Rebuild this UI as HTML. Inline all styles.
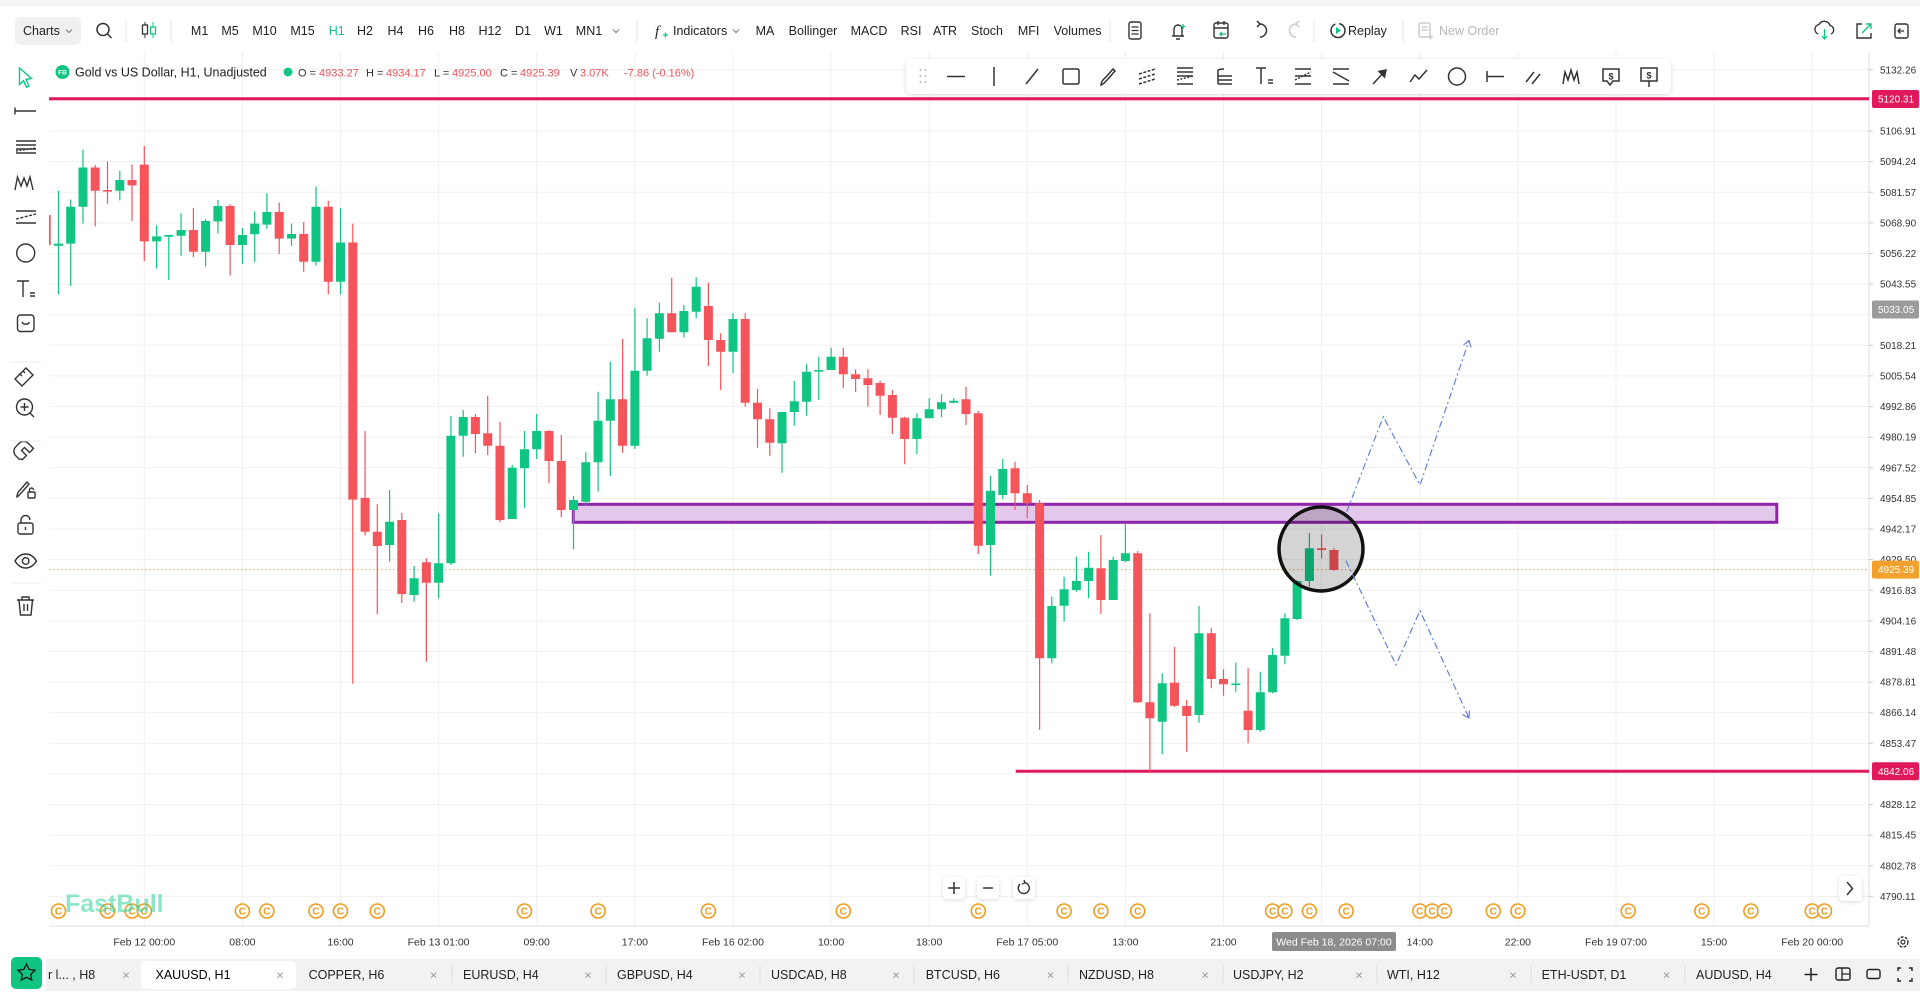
<!DOCTYPE html>
<html><head><meta charset="utf-8">
<style>
html,body{margin:0;padding:0;background:#fff;}
body{width:1920px;height:995px;overflow:hidden;}
svg{display:block;font-family:"Liberation Sans",sans-serif;}
</style></head>
<body>
<svg width="1920" height="995" viewBox="0 0 1920 995" xmlns="http://www.w3.org/2000/svg">
<defs>
<clipPath id="cl"><rect x="49" y="52" width="1820" height="874"/></clipPath>
<filter id="sh" x="-5%" y="-30%" width="110%" height="160%"><feDropShadow dx="0" dy="1" stdDeviation="2" flood-color="#000" flood-opacity="0.15"/></filter>
</defs>
<rect width="1920" height="995" fill="#fff"/>
<rect width="1920" height="6" fill="#f3f3f3"/>

<!-- ============ TOP TOOLBAR ============ -->
<g font-size="12.5" fill="#222">
<rect x="15" y="17" width="66" height="28" rx="5" fill="#f0f0f0"/>
<text x="23" y="35">Charts</text>
<path d="M66 29.5l3 3 3-3" stroke="#888" fill="none" stroke-width="1.2"/>
<circle cx="103" cy="29.5" r="6" stroke="#333" stroke-width="1.5" fill="none"/>
<path d="M107.5 34l4 4" stroke="#333" stroke-width="1.5"/>
<g stroke="#e3e3e3" stroke-width="1"><path d="M126 20V42M171 20V42M637 20V42M1110 20V42M1314 20V42M1403 20V42"/></g>
<path d="M145 22V38" stroke="#333"/><rect x="142.5" y="25" width="5" height="9" fill="#fff" stroke="#333" stroke-width="1.3"/>
<path d="M153 22V38" stroke="#10c482"/><rect x="150.5" y="27" width="5" height="7" fill="#fff" stroke="#10c482" stroke-width="1.3"/>
<g text-anchor="middle">
<text x="199.6" y="35">M1</text><text x="230" y="35">M5</text><text x="264.5" y="35">M10</text><text x="302.5" y="35">M15</text>
<text x="336.7" y="35" fill="#10c482">H1</text><text x="365" y="35">H2</text><text x="395.5" y="35">H4</text><text x="426" y="35">H6</text>
<text x="457" y="35">H8</text><text x="490" y="35">H12</text><text x="523" y="35">D1</text><text x="553.5" y="35">W1</text><text x="589" y="35">MN1</text>
<text x="765" y="35">MA</text><text x="813" y="35">Bollinger</text><text x="869" y="35">MACD</text><text x="911" y="35">RSI</text>
<text x="945" y="35">ATR</text><text x="987" y="35">Stoch</text><text x="1028.6" y="35">MFI</text><text x="1077.6" y="35">Volumes</text>
</g>
<path d="M613 29.5l3 3 3-3" stroke="#888" fill="none" stroke-width="1.2"/>
<text x="655" y="36" font-style="italic" font-size="15" font-family="Liberation Serif,serif">f</text>
<path d="M663 35h5M665.5 32.5v5" stroke="#10c482" stroke-width="1.3"/>
<text x="673" y="35">Indicators</text>
<path d="M733 29.5l3 3 3-3" stroke="#888" fill="none" stroke-width="1.2"/>
<!-- icons -->
<rect x="1129" y="22" width="12" height="17" rx="2" fill="none" stroke="#333" stroke-width="1.4"/>
<path d="M1131.5 27h7M1131.5 30.5h7M1131.5 34h7" stroke="#333" stroke-width="1.2"/>
<path d="M1172 36h12M1174 36v-7a4 4 0 0 1 8 0v7M1176 39h4" stroke="#333" stroke-width="1.4" fill="none"/>
<path d="M1183 24v5M1180.5 26.5h5" stroke="#10c482" stroke-width="1.3"/>
<rect x="1214" y="23" width="14" height="15" rx="2" fill="none" stroke="#333" stroke-width="1.4"/>
<path d="M1214 28h14M1218 21v4M1224 21v4" stroke="#333" stroke-width="1.4"/>
<path d="M1226 34h-6l2-2M1220 34l2 2" stroke="#10c482" stroke-width="1.3" fill="none"/>
<path d="M1260 24a6.5 6.5 0 1 1 0 13" stroke="#333" stroke-width="1.5" fill="none"/><path d="M1257 21l3 3-3 3" stroke="#333" stroke-width="1.5" fill="none"/>
<path d="M1296 24a6.5 6.5 0 1 0 0 13" stroke="#c8c8c8" stroke-width="1.5" fill="none"/><path d="M1299 21l-3 3 3 3" stroke="#c8c8c8" stroke-width="1.5" fill="none"/>
<circle cx="1338" cy="30.5" r="7" stroke="#333" stroke-width="1.5" fill="none" stroke-dasharray="30 4"/>
<path d="M1336 27v7l5-3.5z" fill="#10c482"/>
<text x="1348" y="35">Replay</text>
<rect x="1419" y="23" width="11" height="14" rx="1.5" fill="none" stroke="#c4c4c4" stroke-width="1.3"/>
<path d="M1421.5 27h6M1421.5 30h6M1428 37h5M1430.5 34.5v5" stroke="#c4c4c4" stroke-width="1.2"/>
<text x="1439" y="35" fill="#b8b8b8">New Order</text>
<path d="M1818 34a5 5 0 0 1 1-9.5 6 6 0 0 1 11 1 4.5 4.5 0 0 1 1 8.5" stroke="#333" stroke-width="1.4" fill="none"/>
<path d="M1824.5 29v10M1822 36l2.5 3 2.5-3" stroke="#10c482" stroke-width="1.3" fill="none"/>
<path d="M1862 24h-5v14h14v-5" stroke="#333" stroke-width="1.4" fill="none"/><path d="M1862 33l9-9M1866 24h5v5" stroke="#10c482" stroke-width="1.4" fill="none"/>
<rect x="1895" y="24" width="13" height="14" rx="2" stroke="#333" stroke-width="1.4" fill="none"/>
<path d="M1904 31h-6M1900.5 28.5l-2.5 2.5 2.5 2.5" stroke="#333" stroke-width="1.3" fill="none"/>
</g>

<!-- ============ CHART GRID ============ -->
<g stroke="#efefef" stroke-width="1">
<path d="M49 69.8H1869M49 100.4H1869M49 131H1869M49 161.6H1869M49 192.3H1869M49 222.9H1869M49 253.5H1869M49 284.1H1869M49 314.7H1869M49 345.3H1869M49 375.9H1869M49 406.6H1869M49 437.2H1869M49 467.8H1869M49 498.4H1869M49 529H1869M49 559.6H1869M49 590.3H1869M49 620.9H1869M49 651.5H1869M49 682.1H1869M49 712.7H1869M49 743.3H1869M49 773.9H1869M49 804.6H1869M49 835.2H1869M49 865.8H1869M49 896.4H1869"/>
<path d="M144.3 52V926M242.4 52V926M340.5 52V926M438.6 52V926M536.7 52V926M634.9 52V926M733 52V926M831.1 52V926M929.2 52V926M1027.3 52V926M1125.4 52V926M1223.5 52V926M1321.6 52V926M1419.8 52V926M1517.9 52V926M1616 52V926M1714 52V926M1812.2 52V926"/>
</g>
<path d="M1869 52V926M49 926H1869" stroke="#dedede" stroke-width="1"/>

<!-- ============ CHART CONTENT ============ -->
<g clip-path="url(#cl)">
<path d="M49 98.7H1869" stroke="#e0195a" stroke-width="3"/>
<path d="M1015.7 771.3H1869" stroke="#e0195a" stroke-width="3"/>
<path d="M49 569.6H1869" stroke="#f2a531" stroke-width="1" stroke-dasharray="1.5 2.5"/>
<rect x="573.3" y="504.3" width="1203.5" height="18" fill="#e3c8ec" stroke="#8e24aa" stroke-width="3"/>

<!-- green candles -->
<path stroke="#10c482" stroke-width="1.2" fill="none" d="M58.5 190.7V294.3M70.7 199.6V286M83 149.6V223.6M119.8 171V200.4M156.6 225.4V268.6M168.8 235V280M181.1 213.2V255.7M205.6 219.3V266.4M217.9 200V233.6M242.4 228V264M254.7 211.4V262.1M266.9 193.2V229M291.5 223.6V246M316 186.4V265.7M340.5 207.9V294.3M389.6 490V561.7M414.1 566V601.7M438.6 513.3V598.3M450.9 416V565M463.2 410V456.7M512.2 465V519M524.5 431V507.7M536.7 414V459M573.5 496V549.3M585.8 452.3V505M598.1 391.7V491.7M610.3 361.7V476M634.9 307.7V449M647.1 318.3V375.7M659.4 302.7V351.7M683.9 305V337.7M696.2 277.3V318.3M733 313.3V373.3M782 411.7V472.7M794.3 381V425.7M806.6 364.3V415.7M818.8 356.7V400M831.1 347.7V370M916.9 413.3V454.3M929.2 398.3V418.3M941.5 394.3V417.3M953.7 398.3V403.3M990.5 476V575.7M1002.8 459V499.3M1051.8 596.7V663.3M1064.1 576.7V621.7M1076.4 556.7V591.7M1088.6 551.7V598.3M1113.2 556.7V600M1125.4 523.3V562.3M1162.2 673.3V754.3M1199 606V722.7M1235.8 662.7V691.7M1260.3 671.7V731.7M1272.6 648.3V693.3M1284.9 613.3V664.3M1297.1 580V620M1309.4 533.3V586.7"/>
<path fill="#10c482" d="M54 243.6h9V245.7h-9ZM66.2 206.8h9V243.6h-9ZM78.5 167.5h9V206.8h-9ZM115.3 180h9V190.7h-9ZM152.1 236.4h9V241.4h-9ZM164.3 235h9V236.8h-9ZM176.6 230h9V235.7h-9ZM201.1 221h9V251.8h-9ZM213.4 206h9V221.4h-9ZM237.9 235h9V245h-9ZM250.2 223.6h9V234.3h-9ZM262.4 212h9V224.6h-9ZM287 234h9V238.6h-9ZM311.5 206.8h9V261.8h-9ZM336 242.5h9V281.8h-9ZM385.1 521.7h9V545h-9ZM409.6 578.3h9V595h-9ZM434.1 563.3h9V582.7h-9ZM446.4 435.7h9V563.3h-9ZM458.7 417h9V435.7h-9ZM507.7 467.7h9V519h-9ZM520 449.3h9V468.3h-9ZM532.2 431h9V449.3h-9ZM569 500h9V510h-9ZM581.3 462.3h9V501.7h-9ZM593.6 420.7h9V462.3h-9ZM605.8 399.3h9V420.7h-9ZM630.4 370.7h9V445.7h-9ZM642.6 338.3h9V370.7h-9ZM654.9 313.3h9V338.7h-9ZM679.4 311h9V332.3h-9ZM691.7 286.7h9V311.7h-9ZM728.5 319h9V351.7h-9ZM777.5 412h9V443.3h-9ZM789.8 401.3h9V412h-9ZM802.1 371.7h9V401.7h-9ZM814.3 370h9V371.6h-9ZM826.6 356.7h9V370h-9ZM912.4 418.3h9V439h-9ZM924.7 409.3h9V418.3h-9ZM937 402.3h9V409.3h-9ZM949.2 400.7h9V402.7h-9ZM986 490.7h9V545h-9ZM998.3 469h9V495h-9ZM1047.3 606h9V658.3h-9ZM1059.6 589.3h9V605.7h-9ZM1071.9 581h9V590h-9ZM1084.1 567.7h9V581h-9ZM1108.7 560h9V600h-9ZM1120.9 553.3h9V561h-9ZM1157.7 683.3h9V721.7h-9ZM1194.5 633.3h9V715h-9ZM1231.3 683.5h9V685h-9ZM1255.8 692.3h9V730h-9ZM1268.1 655h9V692.3h-9ZM1280.4 618.3h9V655.7h-9ZM1292.6 581h9V619h-9ZM1304.9 548.3h9V581h-9Z"/>

<!-- red candles -->
<path stroke="#f5545a" stroke-width="1.2" fill="none" d="M46.2 200V255M95.2 165V226.4M107.5 161.4V203.9M132 164.6V221M144.3 146V261M193.4 207.9V257.1M230.1 204.3V275.7M279.2 202.5V254M303.7 222V271.8M328.3 200.7V294.3M352.8 223.6V683.6M365.1 431V535.4M377.3 504.3V614M401.8 513V603M426.4 558.3V661.7M475.4 414V453.3M487.7 395.7V455M500 421.7V522.3M549 430V483.3M561.3 435V517.3M622.6 339V452.7M671.7 277.7V332.3M708.4 282.7V366M720.7 333.3V390M745.2 313.3V406.7M757.5 389V447.7M769.8 408.3V455.7M843.3 347.7V388.3M855.6 369.3V391.7M867.9 369.3V406.7M880.1 380.7V415M892.4 390V434M904.7 416.7V464.3M966 386.7V425M978.3 410.7V554M1015 461.7V510M1027.3 485V518.3M1039.6 500V730M1100.9 535V614M1137.7 551V703.3M1149.9 613.3V771.7M1174.5 646.7V706.7M1186.7 700V751.7M1211.3 628.3V688.3M1223.5 669.3V695.7M1248.1 668.3V743.3M1321.6 534.3V558.3M1333.9 548.3V570.7"/>
<path fill="#f5545a" d="M41.7 215h9V245h-9ZM90.7 167.5h9V190.7h-9ZM103 190h9V191.6h-9ZM127.5 180h9V185.4h-9ZM139.8 164.6h9V241.4h-9ZM188.9 230h9V251.8h-9ZM225.6 206h9V245h-9ZM274.7 212h9V238.6h-9ZM299.2 234h9V261.8h-9ZM323.8 206.8h9V281.8h-9ZM348.3 242.5h9V499.6h-9ZM360.6 497.9h9V531.8h-9ZM372.8 531.8h9V546h-9ZM397.3 520h9V594h-9ZM421.9 562.3h9V582.7h-9ZM470.9 417h9V434h-9ZM483.2 433.3h9V445.7h-9ZM495.5 445.7h9V520h-9ZM544.5 431h9V461h-9ZM556.8 461h9V510h-9ZM618.1 399.3h9V445.7h-9ZM667.2 313.3h9V332.3h-9ZM703.9 306h9V340h-9ZM716.2 340h9V351.7h-9ZM740.7 319h9V402.7h-9ZM753 402.7h9V419.3h-9ZM765.3 419.3h9V442.7h-9ZM838.8 356.7h9V374.3h-9ZM851.1 374.3h9V379h-9ZM863.4 378.3h9V385h-9ZM875.6 383h9V395.7h-9ZM887.9 395h9V417.7h-9ZM900.2 417.7h9V439h-9ZM961.5 399.3h9V414h-9ZM973.8 413.3h9V545.7h-9ZM1010.5 468.3h9V493.3h-9ZM1022.8 493.3h9V503.3h-9ZM1035.1 503.3h9V658.3h-9ZM1096.4 568.3h9V600h-9ZM1133.2 553.3h9V702.3h-9ZM1145.4 702.3h9V718.3h-9ZM1170 682.7h9V705.7h-9ZM1182.2 706h9V716h-9ZM1206.8 633.3h9V679h-9ZM1219 679h9V684.3h-9ZM1243.6 710.7h9V730h-9ZM1317.1 548.3h9V550h-9ZM1329.4 550h9V570h-9Z"/>

<circle cx="1321" cy="549" r="42" fill="rgba(0,0,0,0.17)" stroke="#111" stroke-width="3.5"/>

<g stroke="#5a78d8" stroke-width="1.1" fill="none" stroke-dasharray="7 3 2 3">
<path d="M1346.7 511.7L1383.3 416.7L1420 485L1469 340.5"/>
<path d="M1346 560.7L1396 665L1420 610.7L1469 718"/>
</g>
<g stroke="#5a78d8" stroke-width="1.1" fill="none">
<path d="M1463.5 345L1469 340.5L1471 347.5"/>
<path d="M1462.5 714.5L1469 718L1469.5 710.5"/>
</g>
</g>

<!-- ============ INFO ROW ============ -->
<g font-size="12.5">
<circle cx="62.5" cy="72" r="7" fill="#10c482"/>
<text x="62.5" y="74.5" font-size="6.5" font-weight="bold" fill="#fff" text-anchor="middle">FB</text>
<text x="75" y="76.5" fill="#222">Gold vs US Dollar, H1, Unadjusted</text>
<circle cx="288" cy="72" r="4.5" fill="#10c482"/>
<text y="76.5" font-size="11" fill="#333"><tspan x="298">O =</tspan><tspan x="319" fill="#f0525a">4933.27</tspan><tspan x="366">H =</tspan><tspan x="386" fill="#f0525a">4934.17</tspan><tspan x="434">L =</tspan><tspan x="452" fill="#f0525a">4925.00</tspan><tspan x="500">C =</tspan><tspan x="520" fill="#f0525a">4925.39</tspan><tspan x="570">V</tspan><tspan x="580" fill="#f0525a">3.07K</tspan><tspan x="624" fill="#f0525a">-7.86 (-0.16%)</tspan></text>
</g>

<!-- ============ DRAWING TOOLBAR ============ -->
<rect x="906" y="59" width="765" height="35" rx="6" fill="#fff" filter="url(#sh)"/>
<g stroke="#333" stroke-width="1.5" fill="none">
<g fill="#bbb" stroke="none"><circle cx="920.5" cy="70" r="1"/><circle cx="925.5" cy="70" r="1"/><circle cx="920.5" cy="76" r="1"/><circle cx="925.5" cy="76" r="1"/><circle cx="920.5" cy="82" r="1"/><circle cx="925.5" cy="82" r="1"/></g>
<path d="M947 76.5h18"/>
<path d="M994 67v19"/>
<path d="M1026 84l12-15"/>
<rect x="1063" y="69" width="16" height="15" rx="1.5"/>
<path d="M1101 85c0-4 3-6 5-8l7-8 2 2-7 8c-2 2-4 5-7 6z"/>
<path d="M1139 74l16-5M1139 79l16-5M1139 84l16-5" stroke-dasharray="3 1.5"/>
<path d="M1177 68h16M1177 72h16M1177 76h16M1177 84h16"/><path d="M1177 80l16-4" stroke-dasharray="2 1.5"/>
<path d="M1218 70c2-1 4-1 6-1M1218 70v14M1218 76h14M1218 80h14M1218 84h14"/>
<path d="M1256 68h10M1261 68v16M1268 80h5M1268 83h5"/>
<path d="M1295 69h16M1295 84h16"/><path d="M1295 80l16-8" stroke-dasharray="2 1.5"/><path d="M1295 76h16"/>
<path d="M1333 69h16M1333 84h16M1333 72l16 9"/>
<path d="M1373 84l13-14"/><path d="M1386 70l-7 1.5 5.5 5.5z" fill="#333"/>
<path d="M1410 82l5-7 4 4 8-9"/>
<circle cx="1457" cy="76.5" r="8.5"/>
<path d="M1487 76.5h17M1487 71v11"/>
<path d="M1526 82l8-10M1532 84l8-10"/>
<path d="M1563 84l2-12 3 8 3-10 3 10 3-8 2 12"/>
<path d="M1603 69h16v12h-6l-3 4-3-4h-4z"/><text x="1611" y="79.5" font-size="9" fill="#333" stroke="none" text-anchor="middle" font-weight="bold">$</text>
<path d="M1641 68h16v13h-16zM1649 81v6"/><text x="1649" y="78.5" font-size="9" fill="#333" stroke="none" text-anchor="middle" font-weight="bold">$</text>
</g>

<!-- ============ LEFT TOOLBAR ============ -->
<rect x="0" y="52" width="48" height="880" fill="#fff"/>
<g stroke="#333" stroke-width="1.4" fill="none">
<path d="M19.5 68l12 10.5-5.5 1 3 6.5-2.5 1.2-3-6.5-4 3.8z" stroke="#10c482"/>
<path d="M15 111h21M15 107.5v7"/>
<path d="M16 141h20M16 145h20M16 149h20M16 153h20"/><path d="M16 151l20-3" stroke-dasharray="2 1.5"/>
<path d="M15 190l2.5-13 3.5 9 3-8 3 8 3-9 3 13"/>
<path d="M16 211h20M16 223h20"/><path d="M16 219l20-5" stroke-dasharray="3 1.5"/>
<circle cx="25.7" cy="253" r="9"/>
<path d="M17 281h12M23 281v16M30 293h5M30 296h5"/>
<rect x="17.5" y="315" width="16.5" height="16.5" rx="3"/><path d="M22 322c1 3 6.5 3 7.5 0"/>
<path d="M15 379l11-11 7 7-11 11zM20 374l2 2M23 371l2 2M26 368l1.5 1.5"/>
<circle cx="24.5" cy="407" r="8"/><path d="M24.5 403v8M20.5 407h8M30 413l4 4"/>
<path d="M19 459l-3-3a6.5 6.5 0 0 1 0-9.5l3-3a6.5 6.5 0 0 1 9.5 0l5 5-4 4-5-5-3 3 5 5-4 4z"/>
<path d="M17 497c0-4 2-6 4-8l6-7 2 2-6 7c-2 2-4 5-6 6z"/><rect x="28" y="492" width="7" height="6" rx="1"/><path d="M29.5 492v-2a2 2 0 0 1 4 0"/>
<rect x="18" y="523" width="15" height="11" rx="2"/><path d="M21 523v-3a4.5 4.5 0 0 1 9 0"/><path d="M25.5 527v3"/>
<path d="M15 561c3-5 6.5-7 10.7-7s7.7 2 10.7 7c-3 5-6.5 7-10.7 7s-7.7-2-10.7-7z"/><circle cx="25.7" cy="561" r="3.3"/>
<path d="M17 600h17M22 600v-3h7v3M19 600l1.5 15h10.5l1.5-15M24 604v7M27.5 604v7"/>
</g>
<path d="M10 362h31M10 441h31M10 583h31" stroke="#eee"/>

<!-- ============ PRICE AXIS ============ -->
<g font-size="10" fill="#333">
<path stroke="#ccc" d="M1869 69.8h4M1869 131h4M1869 161.6h4M1869 192.3h4M1869 222.9h4M1869 253.5h4M1869 284.1h4M1869 345.3h4M1869 375.9h4M1869 406.6h4M1869 437.2h4M1869 467.8h4M1869 498.4h4M1869 529h4M1869 559.6h4M1869 590.3h4M1869 620.9h4M1869 651.5h4M1869 682.1h4M1869 712.7h4M1869 743.3h4M1869 804.6h4M1869 835.2h4M1869 865.8h4M1869 896.4h4"/>
<text x="1880" y="73.3">5132.26</text>
<text x="1880" y="134.5">5106.91</text>
<text x="1880" y="165.1">5094.24</text>
<text x="1880" y="195.8">5081.57</text>
<text x="1880" y="226.4">5068.90</text>
<text x="1880" y="257">5056.22</text>
<text x="1880" y="287.6">5043.55</text>
<text x="1880" y="348.8">5018.21</text>
<text x="1880" y="379.4">5005.54</text>
<text x="1880" y="410.1">4992.86</text>
<text x="1880" y="440.7">4980.19</text>
<text x="1880" y="471.3">4967.52</text>
<text x="1880" y="501.9">4954.85</text>
<text x="1880" y="532.5">4942.17</text>
<text x="1880" y="563.1">4929.50</text>
<text x="1880" y="593.8">4916.83</text>
<text x="1880" y="624.4">4904.16</text>
<text x="1880" y="655">4891.48</text>
<text x="1880" y="685.6">4878.81</text>
<text x="1880" y="716.2">4866.14</text>
<text x="1880" y="746.8">4853.47</text>
<text x="1880" y="808.1">4828.12</text>
<text x="1880" y="838.7">4815.45</text>
<text x="1880" y="869.3">4802.78</text>
<text x="1880" y="899.9">4790.11</text>
</g>
<g font-size="10" fill="#fff">
<rect x="1872" y="90" width="47" height="18" rx="2" fill="#e0195a"/><text x="1878" y="102.5">5120.31</text>
<rect x="1872" y="300.5" width="47" height="18" rx="2" fill="#9b9b9b"/><text x="1878" y="313">5033.05</text>
<rect x="1872" y="560.6" width="47" height="18" rx="2" fill="#f2a12d"/><text x="1878" y="573.1">4925.39</text>
<rect x="1872" y="762.3" width="47" height="18" rx="2" fill="#e0195a"/><text x="1878" y="774.8">4842.06</text>
</g>

<!-- ============ EVENT MARKERS ============ -->
<g stroke="#f29b1d" stroke-width="1.6" fill="#fff">
<circle cx="58.5" cy="911" r="7"/><circle cx="107.5" cy="911" r="7"/><circle cx="132" cy="911" r="7"/><circle cx="144.3" cy="911" r="7"/><circle cx="242.4" cy="911" r="7"/><circle cx="266.9" cy="911" r="7"/><circle cx="316" cy="911" r="7"/><circle cx="340.5" cy="911" r="7"/><circle cx="377.3" cy="911" r="7"/><circle cx="524.5" cy="911" r="7"/><circle cx="598.1" cy="911" r="7"/><circle cx="708.4" cy="911" r="7"/><circle cx="843.3" cy="911" r="7"/><circle cx="978.3" cy="911" r="7"/><circle cx="1064.1" cy="911" r="7"/><circle cx="1100.9" cy="911" r="7"/><circle cx="1137.7" cy="911" r="7"/><circle cx="1272.6" cy="911" r="7"/><circle cx="1284.9" cy="911" r="7"/><circle cx="1309.4" cy="911" r="7"/><circle cx="1346.2" cy="911" r="7"/><circle cx="1419.8" cy="911" r="7"/><circle cx="1432.1" cy="911" r="7"/><circle cx="1444.4" cy="911" r="7"/><circle cx="1493.3" cy="911" r="7"/><circle cx="1517.9" cy="911" r="7"/><circle cx="1628.2" cy="911" r="7"/><circle cx="1701.8" cy="911" r="7"/><circle cx="1750.9" cy="911" r="7"/><circle cx="1812.2" cy="911" r="7"/><circle cx="1824.5" cy="911" r="7"/>
</g>
<g font-size="10" font-weight="bold" fill="#f29b1d" text-anchor="middle">
<text x="58.5" y="914.5">C</text><text x="107.5" y="914.5">C</text><text x="132" y="914.5">C</text><text x="144.3" y="914.5">C</text><text x="242.4" y="914.5">C</text><text x="266.9" y="914.5">C</text><text x="316" y="914.5">C</text><text x="340.5" y="914.5">C</text><text x="377.3" y="914.5">C</text><text x="524.5" y="914.5">C</text><text x="598.1" y="914.5">C</text><text x="708.4" y="914.5">C</text><text x="843.3" y="914.5">C</text><text x="978.3" y="914.5">C</text><text x="1064.1" y="914.5">C</text><text x="1100.9" y="914.5">C</text><text x="1137.7" y="914.5">C</text><text x="1272.6" y="914.5">C</text><text x="1284.9" y="914.5">C</text><text x="1309.4" y="914.5">C</text><text x="1346.2" y="914.5">C</text><text x="1419.8" y="914.5">C</text><text x="1432.1" y="914.5">C</text><text x="1444.4" y="914.5">C</text><text x="1493.3" y="914.5">C</text><text x="1517.9" y="914.5">C</text><text x="1628.2" y="914.5">C</text><text x="1701.8" y="914.5">C</text><text x="1750.9" y="914.5">C</text><text x="1812.2" y="914.5">C</text><text x="1824.5" y="914.5">C</text>
</g>
<text x="65" y="912" font-size="25" font-weight="bold" fill="#2fd39b" fill-opacity="0.55">FastBull</text>

<g filter="url(#sh)" fill="#fff"><rect x="943" y="877" width="22" height="22" rx="4"/><rect x="977" y="877" width="22" height="22" rx="4"/><rect x="1013" y="877" width="22" height="22" rx="4"/><rect x="1839" y="876" width="23" height="25" rx="4"/></g>
<path d="M948 888h12M954 882v12M983 888h10" stroke="#333" stroke-width="1.5"/>
<path d="M1020 884a5.5 5.5 0 1 0 4-1.5" stroke="#333" stroke-width="1.4" fill="none"/><path d="M1024 880l1 3-3 1" stroke="#333" stroke-width="1.3" fill="none"/>
<path d="M1847 882l5.5 6.5-5.5 6.5" stroke="#333" stroke-width="1.5" fill="none"/>

<!-- ============ TIME AXIS ============ -->
<g font-size="10.5" fill="#333" text-anchor="middle">
<text x="144.3" y="945.5">Feb 12 00:00</text>
<text x="242.4" y="945.5">08:00</text>
<text x="340.5" y="945.5">16:00</text>
<text x="438.6" y="945.5">Feb 13 01:00</text>
<text x="536.7" y="945.5">09:00</text>
<text x="634.9" y="945.5">17:00</text>
<text x="733" y="945.5">Feb 16 02:00</text>
<text x="831.1" y="945.5">10:00</text>
<text x="929.2" y="945.5">18:00</text>
<text x="1027.3" y="945.5">Feb 17 05:00</text>
<text x="1125.4" y="945.5">13:00</text>
<text x="1223.5" y="945.5">21:00</text>
<text x="1419.8" y="945.5">14:00</text>
<text x="1517.9" y="945.5">22:00</text>
<text x="1616" y="945.5">Feb 19 07:00</text>
<text x="1714" y="945.5">15:00</text>
<text x="1812.2" y="945.5">Feb 20 00:00</text>
</g>
<rect x="1272" y="932" width="124" height="19" rx="2" fill="#8c8c8c"/>
<text x="1334" y="945.5" font-size="10.5" fill="#fff" text-anchor="middle">Wed Feb 18, 2026 07:00</text>
<circle cx="1903" cy="942" r="5" stroke="#333" stroke-width="1.4" fill="none" stroke-dasharray="3 1.2"/><circle cx="1903" cy="942" r="2" stroke="#333" stroke-width="1.2" fill="none"/>

<!-- ============ BOTTOM TABS ============ -->
<rect x="46" y="959" width="1874" height="32" fill="#f2f2f2"/>
<rect x="11" y="957" width="31" height="32" rx="5" fill="#10c482"/>
<path d="M26.5 964l2.6 5.4 5.9.8-4.3 4.1 1 5.8-5.2-2.8-5.2 2.8 1-5.8-4.3-4.1 5.9-.8z" stroke="#111" stroke-width="1.3" fill="none"/>
<rect x="141" y="961" width="155" height="28" rx="5" fill="#fff"/>
<g font-size="12.5" fill="#222">
<text x="48" y="979">r l... , H8</text>
<text x="155.5" y="979" fill="#000">XAUUSD, H1</text>
<text x="308.6" y="979">COPPER, H6</text>
<text x="463" y="979">EURUSD, H4</text>
<text x="617" y="979">GBPUSD, H4</text>
<text x="771" y="979">USDCAD, H8</text>
<text x="925.7" y="979">BTCUSD, H6</text>
<text x="1079" y="979">NZDUSD, H8</text>
<text x="1233" y="979">USDJPY, H2</text>
<text x="1387" y="979">WTI, H12</text>
<text x="1541.6" y="979">ETH-USDT, D1</text>
<text x="1696" y="979">AUDUSD, H4</text>
</g>
<g font-size="13" fill="#999" text-anchor="middle">
<text x="126" y="979.5">×</text><text x="280" y="979.5">×</text><text x="433.5" y="979.5">×</text><text x="588" y="979.5">×</text><text x="742" y="979.5">×</text><text x="896" y="979.5">×</text><text x="1050.6" y="979.5">×</text><text x="1205" y="979.5">×</text><text x="1359" y="979.5">×</text><text x="1513" y="979.5">×</text><text x="1666.5" y="979.5">×</text>
</g>
<path stroke="#dcdcdc" d="M452 966v17M606 966v17M760 966v17M914 966v17M1068 966v17M1223 966v17M1377 966v17M1531 966v17M1685 966v17"/>
<path d="M1811 968v13M1804.5 974.5h13" stroke="#222" stroke-width="1.5"/>
<rect x="1836" y="968" width="14" height="12" rx="2" stroke="#222" stroke-width="1.4" fill="none"/><path d="M1842 968v12M1842 974h8" stroke="#222" stroke-width="1.3"/>
<rect x="1867" y="969.5" width="13" height="9" rx="2" stroke="#222" stroke-width="1.4" fill="none"/>
<path d="M1898 971v-3h3M1909 968h3v3M1912 978v3h-3M1901 981h-3v-3" stroke="#222" stroke-width="1.4" fill="none"/>
</svg>
</body></html>
